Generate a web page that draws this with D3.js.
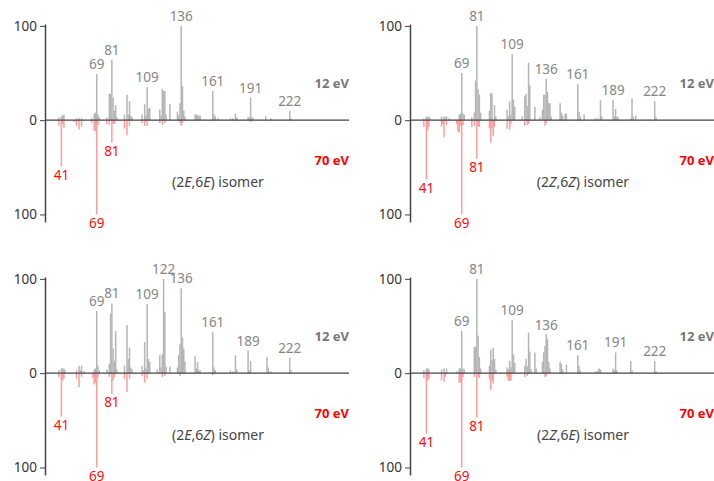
<!DOCTYPE html>
<html>
<head>
<meta charset="utf-8">
<script src="https://cdn.jsdelivr.net/npm/d3@7"></script>
<style>
  body { margin: 0; background: #fff; }
  text { font-family: "Noto Sans", "Open Sans", sans-serif; }
</style>
</head>
<body>
<div id="chart"></div>
<script>
/*
 Mirrored EI mass spectra of four isomers: 12 eV (up, gray) vs 70 eV (down, red).
 Each peak is [m/z, relative intensity %].
*/
var ee12 = [[39,3],[41,4],[42,5],[43,6],[53,2],[55,2],[57,2],[65,2],[67,7],[68,8],[69,49],[70,6],[71,3],[77,3],
  [79,28],[80,28],[81,64],[82,24],[83,10],[84,16],[85,3],[91,6],[93,27],[94,6],[95,20],[96,5],[97,3],
  [105,6],[107,17],[108,5],[109,35],[110,12],[111,13],[119,11],[120,5],[121,33],[122,31],[123,31],[124,6],
  [127,17],[133,9],[134,5],[135,18],[136,100],[137,36],[138,10],[139,4],[147,6],[148,6],[149,5],[150,5],
  [151,5],[161,31],[162,6],[163,4],[165,2],[175,2],[177,2],[179,7],[180,3],[189,3],[190,3],[191,24],
  [192,3],[193,2],[203,4],[207,2],[222,10],[223,2]];
var ee70 = [[39,6],[41,49],[42,4],[43,8],[51,2],[53,6],[55,10],[57,7],[65,3],[67,11],[68,12],[69,100],[70,5],
  [77,4],[79,5],[81,24],[82,4],[83,4],[91,9],[93,16],[95,6],[105,3],[107,6],[109,6],[119,3],[121,5],[123,3],
  [135,3],[136,6],[137,3],[191,2]];

var zz12 = [[39,2],[41,4],[42,3],[43,4],[44,2],[53,4],[55,4],[56,3],[57,4],[59,2],[67,6],[68,7],[69,50],[70,7],
  [71,6],[77,3],[79,8],[80,42],[81,100],[82,33],[83,27],[84,8],[91,10],[92,29],[93,28],[95,16],[96,4],
  [105,11],[106,4],[107,20],[108,6],[109,70],[110,22],[111,14],[117,4],[119,25],[120,28],[121,15],[122,61],
  [123,37],[127,14],[131,3],[133,11],[134,27],[135,27],[136,44],[137,30],[138,18],[139,18],[140,4],
  [147,18],[148,8],[149,5],[151,7],[152,7],[161,38],[162,9],[163,4],[166,6],[175,2],[177,2],[179,21],
  [180,4],[189,21],[190,4],[191,12],[192,4],[193,3],[203,2],[204,23],[205,4],[207,5],[222,20],[223,3]];
var zz70 = [[39,7],[41,63],[42,11],[43,7],[53,7],[54,4],[55,18],[57,5],[65,4],[66,12],[67,13],[68,6],[69,100],
  [70,5],[77,7],[79,6],[81,41],[82,7],[83,7],[91,9],[92,24],[93,8],[94,17],[95,7],[105,9],[107,10],[108,4],
  [119,6],[121,5],[122,4],[135,6],[136,3]];

var ez12 = [[39,3],[41,5],[42,5],[43,5],[44,3],[53,3],[55,8],[56,3],[57,8],[59,2],[67,4],[68,5],[69,66],[70,8],
  [71,3],[77,4],[79,10],[80,63],[81,74],[82,26],[83,13],[84,45],[85,4],[91,8],[93,51],[94,15],[95,27],
  [96,6],[97,4],[105,8],[106,3],[107,33],[108,5],[109,73],[110,15],[111,12],[117,4],[119,19],[120,6],
  [121,20],[122,100],[123,65],[124,7],[127,7],[133,6],[134,19],[135,31],[136,90],[137,38],[138,26],
  [139,12],[147,18],[148,5],[149,12],[150,3],[151,3],[161,44],[162,6],[163,3],[175,3],[177,2],[179,19],
  [180,4],[189,24],[190,3],[191,13],[204,17],[205,6],[207,2],[222,16],[223,3]];
var ez70 = [[39,4],[41,46],[42,8],[43,6],[53,6],[55,15],[57,4],[66,5],[67,12],[68,10],[69,100],[70,4],[79,4],
  [81,22],[82,8],[83,4],[91,6],[93,20],[95,6],[105,3],[107,10],[109,6],[121,4],[123,3],[135,3],[161,2]];

var ze12 = [[39,3],[41,5],[42,5],[43,4],[53,4],[55,5],[57,5],[65,2],[67,5],[68,5],[69,45],[70,5],[71,4],
  [79,28],[80,28],[81,100],[82,40],[83,17],[84,5],[91,8],[92,25],[93,14],[94,27],[95,15],[96,4],[105,6],
  [106,4],[107,13],[108,6],[109,56],[110,20],[111,11],[119,8],[120,15],[121,7],[122,43],[123,23],[124,4],
  [127,22],[128,5],[133,12],[134,22],[135,29],[136,41],[137,36],[138,12],[139,5],[147,12],[148,10],
  [149,4],[152,9],[161,19],[162,8],[163,3],[175,2],[177,3],[178,5],[179,4],[189,5],[190,3],[191,22],
  [192,3],[203,13],[204,3],[222,13],[223,2]];
var ze70 = [[39,5],[41,64],[42,8],[43,6],[53,8],[55,9],[56,4],[67,10],[68,10],[69,100],[70,4],[79,4],[81,47],
  [82,4],[83,5],[91,6],[92,18],[93,8],[94,11],[105,4],[106,8],[107,8],[108,8],[119,4],[121,3],[135,4],[136,3]];

// labelled peaks
var eeLab12 = [69, 81, 109, 136, 161, 191, 222];
var zzLab12 = [69, 81, 109, 136, 161, 189, 222];
var ezLab12 = [69, 81, 109, 122, 136, 161, 189, 222];
var zeLab12 = [69, 81, 109, 136, 161, 191, 222];
var lab70 = [41, 69, 81];

var yTicks = [100, 0, -100];
var mzDomain = [28, 269];

const W = 714, H = 481;
var svg = d3.select('#chart').append('svg')
  .attr('width', W)
  .attr('height', H);

var panels = [
  { left: 45,  top: 0,   up: ee12, down: ee70, lab: eeLab12, iso: ['E', 'E'] },
  { left: 410, top: 0,   up: zz12, down: zz70, lab: zzLab12, iso: ['Z', 'Z'] },
  { left: 45,  top: 253, up: ez12, down: ez70, lab: ezLab12, iso: ['E', 'Z'] },
  { left: 410, top: 253, up: ze12, down: ze70, lab: zeLab12, iso: ['Z', 'E'] }
];

panels.forEach(function(p) { mirror_plot(svg, p); });

function mirror_plot(svg, p) {
  var w = 304;
  var g = svg.append('g').attr('transform', 'translate(' + p.left + ',' + p.top + ')');

  var xScale = d3.scaleLinear().domain(mzDomain).range([0, w]);
  var yScale = d3.scaleLinear().domain([102, -108]).range([24, 222]);

  // 12 eV bars (up)
  g.selectAll('.up').data(p.up).enter().append('line')
    .attr('class', 'up')
    .attr('x1', function(d) { return xScale(d[0]); })
    .attr('x2', function(d) { return xScale(d[0]); })
    .attr('y1', yScale(0))
    .attr('y2', function(d) { return yScale(d[1]); })
    .attr('stroke', '#b5b5b5')
    .attr('stroke-width', 1.5);

  // 70 eV bars (down)
  g.selectAll('.down').data(p.down).enter().append('line')
    .attr('class', 'down')
    .attr('x1', function(d) { return xScale(d[0]); })
    .attr('x2', function(d) { return xScale(d[0]); })
    .attr('y1', yScale(0))
    .attr('y2', function(d) { return yScale(-d[1]); })
    .attr('stroke', '#ff9c9c')
    .attr('stroke-width', 1.5);

  // zero line
  g.append('line')
    .attr('x1', 0).attr('x2', w)
    .attr('y1', yScale(0)).attr('y2', yScale(0))
    .attr('stroke', '#444')
    .attr('stroke-width', 1.2);

  // y axis
  var yAxis = d3.axisLeft(yScale)
    .tickValues(yTicks)
    .tickFormat(function(d) { return Math.abs(d); })
    .tickSize(5)
    .tickSizeOuter(0)
    .tickPadding(3);
  var ax = g.append('g').call(yAxis);
  ax.select('.domain').attr('stroke', '#444').attr('stroke-width', 1.5);
  ax.selectAll('.tick line').attr('stroke', '#444');
  ax.selectAll('.tick text')
    .attr('fill', '#333')
    .style('font-size', '13.5px')
    .style('font-family', '"Noto Sans", sans-serif');

  // peak labels
  var upMap = new Map(p.up), downMap = new Map(p.down);
  g.selectAll('.lab12').data(p.lab).enter().append('text')
    .attr('class', 'lab12')
    .attr('x', function(d) { return xScale(d); })
    .attr('y', function(d) { return yScale(upMap.get(d)) - 5; })
    .attr('text-anchor', 'middle')
    .attr('fill', '#868686')
    .style('font-size', '13.5px')
    .text(function(d) { return d; });

  g.selectAll('.lab70').data(lab70).enter().append('text')
    .attr('class', 'lab70')
    .attr('x', function(d) { return xScale(d); })
    .attr('y', function(d) { return yScale(-downMap.get(d)) + 13.5; })
    .attr('text-anchor', 'middle')
    .attr('fill', '#ff0d0d')
    .style('font-size', '13.5px')
    .text(function(d) { return d; });

  // energy tags
  g.append('text')
    .attr('x', w).attr('y', 88)
    .attr('text-anchor', 'end')
    .attr('fill', '#777')
    .style('font-size', '13px')
    .style('font-weight', 'bold')
    .text('12 eV');
  g.append('text')
    .attr('x', w).attr('y', 165)
    .attr('text-anchor', 'end')
    .attr('fill', '#ff0000')
    .style('font-size', '13px')
    .style('font-weight', 'bold')
    .text('70 eV');

  // isomer name
  var iso = g.append('text')
    .attr('x', 173).attr('y', 187)
    .attr('text-anchor', 'middle')
    .attr('fill', '#444')
    .style('font-size', '14px');
  iso.append('tspan').text('(2');
  iso.append('tspan').style('font-style', 'italic').text(p.iso[0]);
  iso.append('tspan').text(',6');
  iso.append('tspan').style('font-style', 'italic').text(p.iso[1]);
  iso.append('tspan').text(') isomer');
}
</script>
</body>
</html>
